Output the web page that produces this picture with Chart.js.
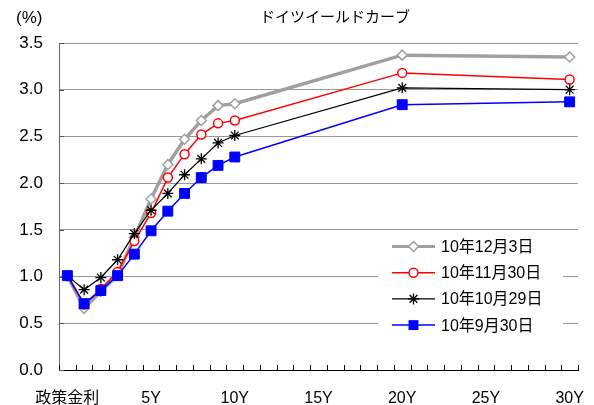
<!DOCTYPE html>
<html><head><meta charset="utf-8">
<script src="https://cdn.jsdelivr.net/npm/chart.js@4/dist/chart.umd.min.js"></script>
<style>html,body{margin:0;padding:0;background:#fff}#wrap{width:594px;height:405px;position:relative}</style>
</head><body><div id="wrap"><canvas id="c" width="594" height="405"></canvas></div>
<script>
// Data
const chartTitle = 'ドイツイールドカーブ';
const unitLabel = '(%)';
const axisCategories = ['政策金利','1Y','2Y','3Y','4Y','5Y','6Y','7Y','8Y','9Y','10Y','11Y','12Y','13Y','14Y','15Y','16Y','17Y','18Y','19Y','20Y','21Y','22Y','23Y','24Y','25Y','26Y','27Y','28Y','29Y','30Y'];
const shownTickLabels = ['政策金利','5Y','10Y','15Y','20Y','25Y','30Y'];
const maturities = ['政策金利','1Y','2Y','3Y','4Y','5Y','6Y','7Y','8Y','9Y','10Y','20Y','30Y'];
const seriesNames = ['10年12月3日','10年11月30日','10年10月29日','10年9月30日'];
const yieldsDec3  = [1.01,0.66,0.84,1.02,1.42,1.83,2.20,2.47,2.67,2.83,2.85,3.37,3.35];
const yieldsNov30 = [1.01,0.70,0.87,1.05,1.38,1.68,2.06,2.31,2.52,2.64,2.67,3.18,3.11];
const yieldsOct29 = [1.01,0.86,0.99,1.18,1.46,1.71,1.89,2.09,2.26,2.43,2.51,3.02,3.00];
const yieldsSep30 = [1.01,0.71,0.85,1.01,1.24,1.49,1.70,1.89,2.06,2.19,2.28,2.84,2.87];
const yTickValues = [0,0.5,1.0,1.5,2.0,2.5,3.0,3.5];

const FONT = '"Liberation Sans", Arial, "Noto Sans CJK JP", sans-serif';
const styles = [
  {color:'#a0a0a0', lw:3.5, pt:'rectRot', r:5, fill:'#ffffff', bw:1.5, order:3},
  {color:'#ff0000', lw:1.5, pt:'circle', r:4.5, fill:'#ffffff', bw:1.5, order:2},
  {color:'#000000', lw:1.2, pt:'star', r:5.5, fill:'#000000', bw:1.3, order:1},
  {color:'#0000ff', lw:1.5, pt:'rect', r:7, fill:'#0000ff', bw:1, order:0}
];
const allSeries = [yieldsDec3, yieldsNov30, yieldsOct29, yieldsSep30];
const datasets = allSeries.map((vals, si) => ({
  label: seriesNames[si],
  data: vals.map((v, i) => ({x: maturities[i], y: v})),
  borderColor: styles[si].color,
  backgroundColor: styles[si].fill,
  borderWidth: styles[si].lw,
  pointStyle: styles[si].pt,
  pointRadius: styles[si].r,
  pointBorderWidth: styles[si].bw,
  pointBorderColor: styles[si].color,
  pointBackgroundColor: styles[si].fill,
  tension: 0,
  order: styles[si].order
}));

function drawMarker(ctx, st, x, y) {
  ctx.save();
  ctx.lineWidth = st.bw; ctx.strokeStyle = st.color; ctx.fillStyle = st.fill;
  const r = st.r;
  ctx.beginPath();
  if (st.pt === 'circle') { ctx.arc(x, y, r, 0, Math.PI*2); ctx.fill(); ctx.stroke(); }
  else if (st.pt === 'rectRot') { ctx.moveTo(x-r,y); ctx.lineTo(x,y-r); ctx.lineTo(x+r,y); ctx.lineTo(x,y+r); ctx.closePath(); ctx.fill(); ctx.stroke(); }
  else if (st.pt === 'rect') { const s = r*Math.SQRT1_2; ctx.rect(x-s,y-s,2*s,2*s); ctx.fill(); }
  else if (st.pt === 'star') {
    ctx.moveTo(x-r,y); ctx.lineTo(x+r,y); ctx.moveTo(x,y-r); ctx.lineTo(x,y+r);
    const d = r*Math.SQRT1_2;
    ctx.moveTo(x-d,y-d); ctx.lineTo(x+d,y+d); ctx.moveTo(x-d,y+d); ctx.lineTo(x+d,y-d);
    ctx.stroke();
  }
  ctx.restore();
}

const decor = {
  id: 'decor',
  beforeDatasetsDraw(chart) {
    const ctx = chart.ctx, xs = chart.scales.x, ys = chart.scales.y, a = chart.chartArea;
    ctx.save();
    const step = xs.getPixelForValue(1) - xs.getPixelForValue(0);
    ctx.strokeStyle = '#000'; ctx.lineWidth = 1;
    ctx.beginPath();
    for (let i = 0; i <= axisCategories.length; i++) {
      const x = Math.round(xs.getPixelForValue(0) - step/2 + i*step) + 0.5;
      ctx.moveTo(x, a.bottom); ctx.lineTo(x, a.bottom - 5);
    }
    ctx.stroke();
    ctx.strokeStyle = '#555';
    ctx.beginPath();
    yTickValues.forEach(v => { const y = Math.round(ys.getPixelForValue(v)) + 0.5; ctx.moveTo(a.left, y); ctx.lineTo(a.left + 5, y); });
    ctx.stroke();
    ctx.restore();
  },
  afterDraw(chart) {
    const ctx = chart.ctx;
    ctx.save();
    ctx.fillStyle = '#000';
    ctx.textBaseline = 'middle';
    ctx.font = '15px ' + FONT;
    ctx.textAlign = 'center';
    ctx.fillText(chartTitle, 335, 18);
    ctx.font = '17px ' + FONT;
    ctx.textAlign = 'left';
    ctx.fillText(unitLabel, 16, 18);
    ctx.fillStyle = '#fff';
    ctx.fillRect(378, 231, 185, 107);
    const y0 = 246.5, dy = 26.2;
    seriesNames.forEach((name, i) => {
      const st = styles[i], y = y0 + i*dy;
      ctx.strokeStyle = st.color; ctx.lineWidth = Math.min(st.lw, 3);
      ctx.beginPath(); ctx.moveTo(392, y); ctx.lineTo(435, y); ctx.stroke();
      drawMarker(ctx, st, 413.5, y);
      ctx.fillStyle = '#000'; ctx.font = '16px ' + FONT; ctx.textAlign = 'left';
      ctx.fillText(name, 441, y + 1);
    });
    ctx.restore();
  }
};

new Chart(document.getElementById('c'), {
  type: 'line',
  data: { labels: axisCategories, datasets },
  plugins: [decor],
  options: {
    responsive: false, animation: false,
    layout: { padding: { top: 43, right: 16, left: 0, bottom: 0 } },
    plugins: { legend: { display: false }, tooltip: { enabled: false }, title: { display: false } },
    scales: {
      x: {
        type: 'category', offset: true,
        grid: { display: false, drawTicks: false },
        border: { display: true, color: '#000', width: 1 },
        ticks: {
          autoSkip: false, maxRotation: 0, minRotation: 0, padding: 19,
          color: '#000', font: { size: 16, family: FONT },
          callback: function(v, i) { const l = axisCategories[i]; return shownTickLabels.includes(l) ? l : ''; }
        },
        afterFit(s) { s.height = 35; s.paddingLeft = 0; s.paddingRight = 0; }
      },
      y: {
        min: 0, max: 3.5,
        grid: { color: '#999', lineWidth: 1, drawTicks: false },
        border: { display: true, color: '#666', width: 1 },
        ticks: {
          stepSize: 0.5, padding: 16, color: '#000', font: { size: 17, family: FONT },
          callback: v => Number(v).toFixed(1)
        },
        afterFit(s) { s.width = 59; s.paddingTop = 0; s.paddingBottom = 0; }
      }
    }
  }
});
</script></body></html>
